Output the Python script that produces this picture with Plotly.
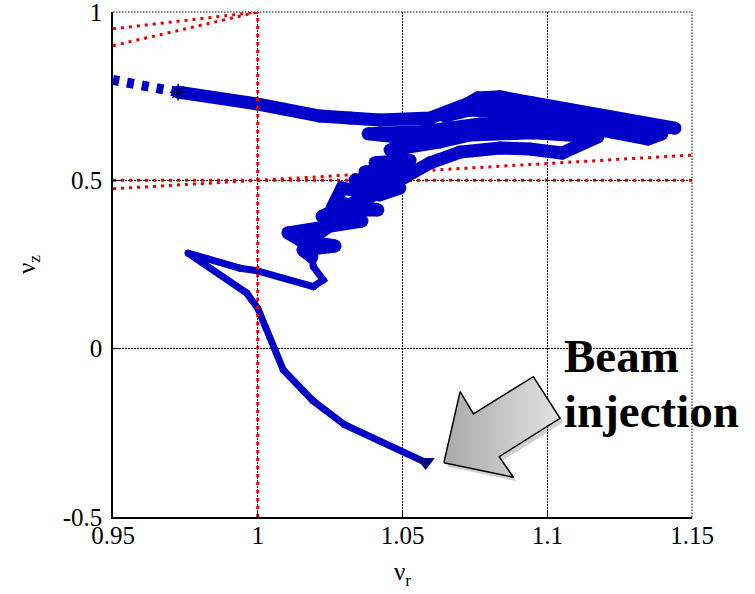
import plotly.graph_objects as go

# ---------------- data ----------------
x_ticks = [0.95, 1.0, 1.05, 1.1, 1.15]
x_tick_text = ["0.95", "1", "1.05", "1.1", "1.15"]
y_ticks = [-0.5, 0.0, 0.5, 1.0]
y_tick_text = ["-0.5", "0", "0.5", "1"]

# resonance lines (nu_r, nu_z)
res_half_x = [0.95, 1.15]
res_half_y = [0.5, 0.5]
res_r1_x = [1.0, 1.0]
res_r1_y = [-0.5, 1.0]
res_diag_x = [0.95, 1.0]
res_diag_y = [0.95, 1.0]
res_2r_x = [0.95, 1.0]
res_2r_y = [0.90, 1.0]
res_r2z_x = [0.95, 1.15]
res_r2z_y = [0.475, 0.575]

# tune trajectory: injection part
lower_x = [1.0578, 1.0300, 1.0191, 1.0088, 1.0000, 0.9962, 0.9759, 0.9824, 0.9939,
           0.9996, 1.0192, 1.0226, 1.0192, 1.0187]
lower_y = [-0.337, -0.226, -0.155, -0.063, 0.120, 0.165, 0.284, 0.268, 0.239,
           0.232, 0.184, 0.204, 0.244, 0.272]

# tune trajectory: acceleration part
thick_x = [1.0187, 1.0156, 1.0267, 1.0146, 1.0104, 1.0232, 1.0360, 1.0222, 1.0267, 1.0415,
           1.0267, 1.0291, 1.0422, 1.0491, 1.0336, 1.0505, 1.0370, 1.0509, 1.0405, 1.0526,
           1.0422, 1.0319, 1.0232, 1.0180, 1.0267, 1.0353, 1.0440, 1.0526, 1.0595,
           1.0699, 1.0837, 1.0940, 1.1051,
           1.1175, 1.0951, 1.0733, 1.0630, 1.0457, 1.0578,
           1.0381, 1.0560, 1.0768, 1.0951, 1.1182, 1.1348,
           1.1396, 1.1182, 1.0951, 1.0733, 1.0647,
           1.0761, 1.0837, 1.0951, 1.1182, 1.1441,
           1.1182, 1.0951, 1.0733, 1.0595,
           1.0422, 1.0319, 1.0215, 0.9997, 0.9725]
thick_y = [0.272, 0.293, 0.305, 0.323, 0.344, 0.360, 0.379, 0.393, 0.412, 0.412,
           0.436, 0.477, 0.457, 0.477, 0.501, 0.507, 0.525, 0.537, 0.552, 0.560,
           0.486, 0.427, 0.367, 0.323, 0.376, 0.433, 0.477, 0.525, 0.552,
           0.584, 0.596, 0.593, 0.581,
           0.629, 0.641, 0.635, 0.614, 0.590, 0.620,
           0.638, 0.644, 0.667, 0.670, 0.650, 0.623,
           0.638, 0.667, 0.700, 0.709, 0.691,
           0.745, 0.748, 0.730, 0.694, 0.655,
           0.682, 0.715, 0.730, 0.685,
           0.679, 0.685, 0.691, 0.727, 0.762]

# dashed continuation beyond the end point
dash_x = [0.9725, 0.95]
dash_y = [0.762, 0.798]

# markers
end_x = [0.9725]
end_y = [0.762]
inj_x = [1.0580]
inj_y = [-0.337]

# annotation arrow outline (nu_r, nu_z)
arrow_x = [1.0643, 1.0699, 1.0745, 1.0952, 1.1044, 1.0834, 1.0883, 1.0643]
arrow_y = [-0.3386, -0.1277, -0.1940, -0.0832, -0.2067, -0.3208, -0.3820, -0.3386]

label_lines = ["Beam", "injection"]
label_x = 1.1051
label_y = [-0.021, -0.184]

# ---------------- styles ----------------
RED = "#e60000"
BLUE = "rgb(0, 0, 200)"
NAVY = "#000066"
FONT = "Liberation Serif"
red_line = dict(color=RED, width=3, dash="3px,5px")
GRID_DASH = "1.5px,1.5px"

fig = go.Figure()

for xs, ys in [(res_half_x, res_half_y), (res_diag_x, res_diag_y),
               (res_2r_x, res_2r_y), (res_r2z_x, res_r2z_y)]:
    fig.add_trace(go.Scatter(x=xs, y=ys, mode="lines", line=red_line, hoverinfo="skip"))

fig.add_trace(go.Scatter(x=lower_x, y=lower_y, mode="lines+markers",
                         line=dict(color=BLUE, width=7),
                         marker=dict(color=BLUE, size=7, line=dict(width=0))))
fig.add_trace(go.Scatter(x=thick_x, y=thick_y, mode="lines+markers",
                         line=dict(color=BLUE, width=13),
                         marker=dict(color=BLUE, size=13, line=dict(width=0))))
fig.add_trace(go.Scatter(x=dash_x, y=dash_y, mode="lines",
                         line=dict(color=BLUE, width=10, dash="7px,8px")))

fig.add_trace(go.Scatter(x=res_r1_x, y=res_r1_y, mode="lines", line=red_line))

fig.add_trace(go.Scatter(x=end_x, y=end_y, mode="markers",
                         marker=dict(symbol="asterisk-open", size=14, color=NAVY,
                                     line=dict(color=NAVY, width=1.5))))
fig.add_trace(go.Scatter(x=inj_x, y=inj_y, mode="markers",
                         marker=dict(symbol="triangle-down", size=16, color="#000080")))

# arrow shadow (offset of a few pixels) and arrow
sdx, sdy = 0.0012, -0.012
fig.add_trace(go.Scatter(x=[v + sdx for v in arrow_x], y=[v + sdy for v in arrow_y],
                         mode="lines", fill="toself", fillcolor="rgba(0,0,0,0.18)",
                         line=dict(width=0, color="rgba(0,0,0,0)")))
fig.add_trace(go.Scatter(x=arrow_x, y=arrow_y, mode="lines", fill="toself",
                         fillgradient=dict(type="horizontal",
                                           colorscale=[[0, "#a9a9a9"], [1, "#e2e2e2"]]),
                         line=dict(color="black", width=1.5)))

for txt, yy in zip(label_lines, label_y):
    fig.add_annotation(x=label_x, y=yy, xref="x", yref="y", text="<b>%s</b>" % txt,
                       showarrow=False, xanchor="left", yanchor="middle",
                       font=dict(family=FONT, size=47, color="black"))

# dotted top and right frame
fig.add_shape(type="line", xref="paper", yref="paper", x0=0, x1=1, y0=1, y1=1,
              line=dict(color="black", width=1, dash=GRID_DASH), layer="below")
fig.add_shape(type="line", xref="paper", yref="paper", x0=1, x1=1, y0=0, y1=1,
              line=dict(color="black", width=1, dash=GRID_DASH), layer="below")

axis_common = dict(showgrid=True, gridcolor="black", gridwidth=1, griddash=GRID_DASH,
                   zeroline=False, showline=True, linecolor="black", linewidth=1.5,
                   ticks="inside", ticklen=6, tickcolor="black", tickwidth=1.2,
                   ticklabeloverflow="allow", automargin=False,
                   tickfont=dict(family=FONT, size=25, color="black"))

fig.update_xaxes(range=[0.95, 1.15], tickvals=x_ticks, ticktext=x_tick_text,
                 ticklabelstandoff=-5,
                 title=dict(text="ν<sub>r</sub>", standoff=15,
                            font=dict(family=FONT, size=25, color="black")),
                 **axis_common)
fig.update_yaxes(range=[-0.5, 1.0], tickvals=y_ticks, ticktext=y_tick_text,
                 ticklabelstandoff=4,
                 title=dict(text="ν<sub>z</sub>", standoff=20,
                            font=dict(family=FONT, size=25, color="black")),
                 **axis_common)

fig.update_layout(width=755, height=594, margin=dict(l=113, r=63, t=12, b=77),
                  paper_bgcolor="white", plot_bgcolor="white", showlegend=False,
                  font=dict(family=FONT, size=25, color="black"))

fig.write_html("out.html")
